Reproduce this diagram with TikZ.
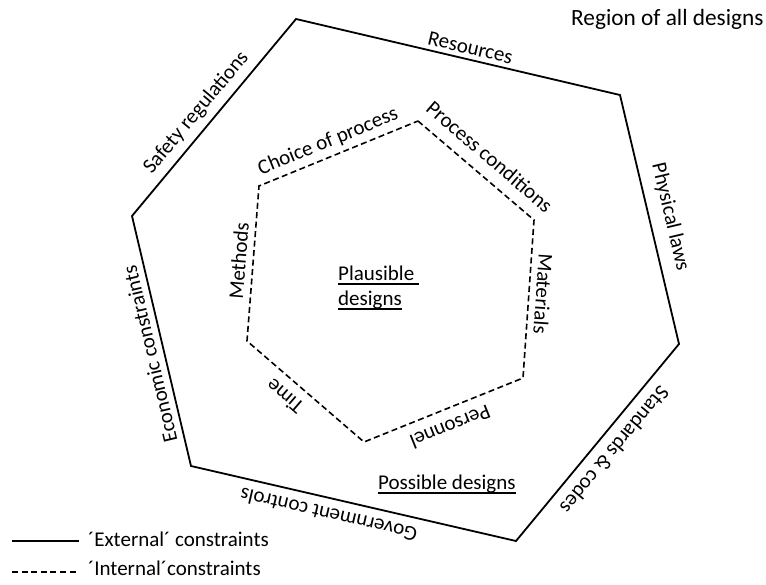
\documentclass[tikz,border=0pt]{standalone}
\usepackage{fontspec}
\setmainfont{Carlito}
% underline drawn as a rule of fixed depth and thickness
\newcommand{\undertext}[1]{\setbox0=\hbox{#1}\rlap{\rule[-4.8pt]{\wd0}{1.5pt}}\box0}
\begin{document}
\begin{tikzpicture}[x=1pt, y=-1pt,
  hardline/.style={line width=1.8pt, line join=miter},
  softline/.style={line width=1.6pt, dash pattern=on 6pt off 3.5pt},
  edgelabel/.style={font=\fontsize{21}{25}\selectfont, sloped, allow upside down,
    anchor=south, inner xsep=0pt, inner ysep=#1, text depth=0pt},
  plain/.style={font=\fontsize{21}{25}\selectfont, anchor=base west, inner sep=0pt}]

\useasboundingbox (0,0) rectangle (766,584);

% outer hexagon: external constraints
\coordinate (o1) at (296,19);
\coordinate (o2) at (620,95);
\coordinate (o3) at (679,344);
\coordinate (o4) at (516,541);
\coordinate (o5) at (191,466);
\coordinate (o6) at (132,216);

% inner hexagon: internal constraints
\coordinate (i1) at (418,121);
\coordinate (i2) at (534,220);
\coordinate (i3) at (523,378);
\coordinate (i4) at (364,442);
\coordinate (i5) at (247,341);
\coordinate (i6) at (259,186);

\draw[hardline] (o1) -- (o2) -- (o3) -- (o4) -- (o5) -- (o6) -- cycle;
\draw[softline] (i1) -- (i2) -- (i3) -- (i4) -- (i5) -- (i6) -- cycle;

% labels on the outer edges, written clockwise on the outside
\path (o6) -- (o1) node[edgelabel=11pt, pos=.47] (safety) {Safety regulations};
\path (o1) -- (o2) node[edgelabel=5pt, pos=.53] (resources) {Resources};
\path (o2) -- (o3) node[edgelabel=15pt, pos=.51] (physics) {Physical laws};
\path (o3) -- (o4) node[edgelabel=11pt, pos=.48] (standards) {Standards \& codes};
\path (o4) -- (o5) node[edgelabel=9.5pt, pos=.565] (government) {Government controls};
\path (o5) -- (o6) node[edgelabel=7pt, pos=.46] (economic) {Economic constraints};

% labels on the inner edges
\path (i6) -- (i1) node[edgelabel=9pt, pos=.47] (choice) {Choice of process};
\path (i1) -- (i2) node[edgelabel=12pt, pos=.51] (conditions) {Process conditions};
\path (i2) -- (i3) node[edgelabel=7pt, pos=.46] (materials) {Materials};
\path (i3) -- (i4) node[edgelabel=11pt, pos=.50] (personnel) {Personnel};
\path (i4) -- (i5) node[edgelabel=10pt, pos=.58] (time) {Time};
\path (i5) -- (i6) node[edgelabel=7pt, pos=.51] (methods) {Methods};

% region names
\node[plain, font=\fontsize{23.3}{28}\selectfont] (region) at (571,25) {Region of all designs};
\node[plain] (plausible1) at (338,280) {\undertext{Plausible\ }};
\node[plain] (plausible2) at (338,305) {\undertext{designs}};
\node[plain] (possible) at (378,489) {\undertext{Possible designs}};

% legend
\coordinate (ext1) at (12,541);
\coordinate (ext2) at (79,541);
\coordinate (int1) at (12,572);
\coordinate (int2) at (79,572);
\draw[hardline] (ext1) -- (ext2);
\draw[line width=1.6pt, dash pattern=on 6pt off 3.6pt] (int1) -- (int2);
\node[plain] (extlabel) at (88,546) {´External´ constraints};
\node[plain] (intlabel) at (88,575) {´Internal´constraints};
\end{tikzpicture}
\end{document}
